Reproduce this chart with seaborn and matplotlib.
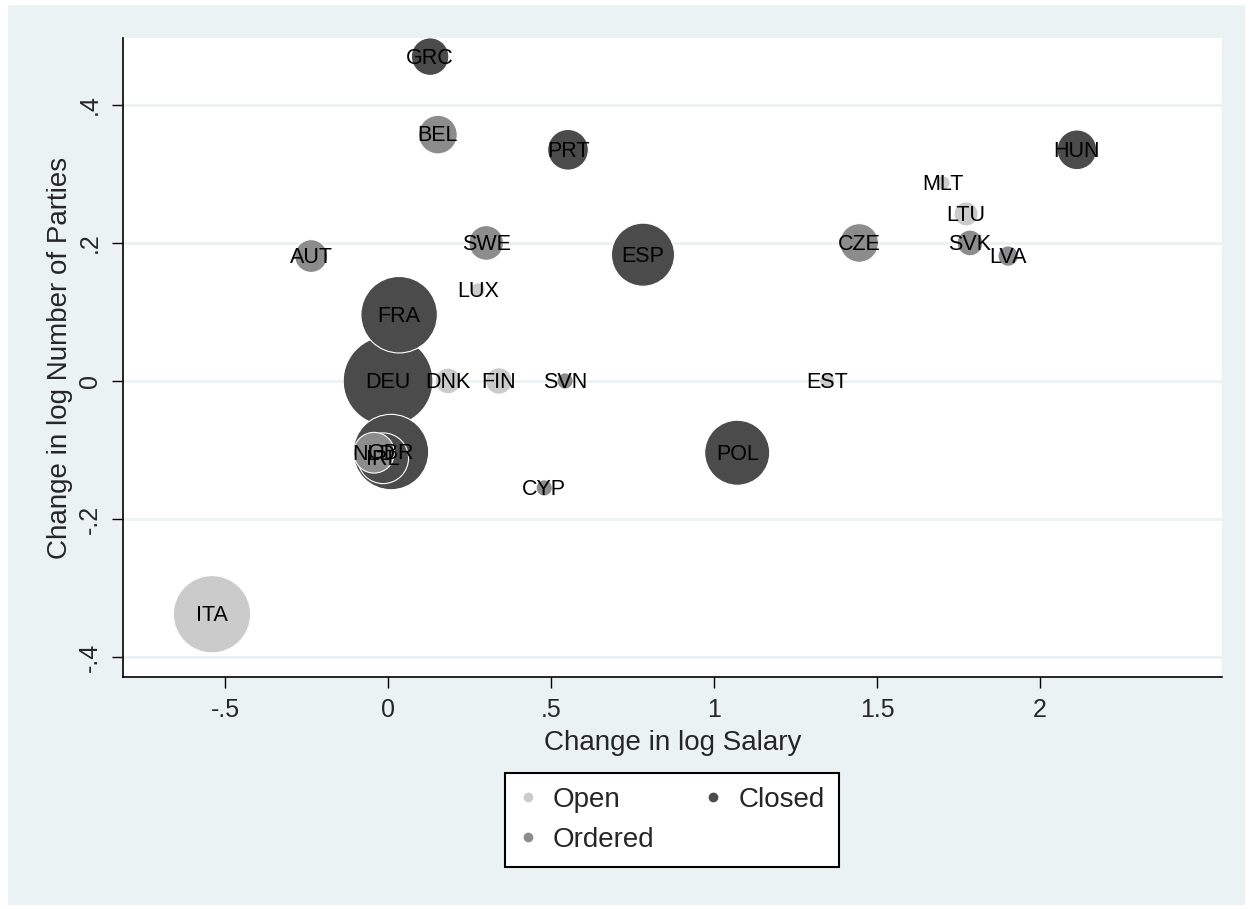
import pandas as pd
import seaborn as sns
import matplotlib.pyplot as plt
from matplotlib.lines import Line2D
from matplotlib.patches import Rectangle

countries = ['GRC', 'BEL', 'PRT', 'HUN', 'MLT', 'LTU', 'SVK', 'LVA', 'CZE', 'ESP',
             'SWE', 'AUT', 'LUX', 'FRA', 'DEU', 'DNK', 'FIN', 'SVN', 'EST', 'GBR',
             'IRL', 'NLD', 'CYP', 'POL', 'ITA']
salary = [0.129, 0.153, 0.552, 2.113, 1.702, 1.773, 1.785, 1.902, 1.445, 0.782,
          0.301, -0.236, 0.276, 0.034, 0.0, 0.184, 0.340, 0.543, 1.347, 0.009,
          -0.015, -0.043, 0.479, 1.071, -0.540]
parties = [0.470, 0.357, 0.335, 0.335, 0.287, 0.242, 0.200, 0.181, 0.200, 0.183,
           0.200, 0.181, 0.132, 0.096, 0.0, 0.0, 0.0, 0.0, 0.0, -0.103,
           -0.112, -0.104, -0.155, -0.104, -0.338]
system = ['Closed', 'Ordered', 'Closed', 'Closed', 'Open', 'Open', 'Ordered', 'Ordered',
          'Ordered', 'Closed', 'Ordered', 'Ordered', 'Open', 'Closed', 'Closed', 'Open',
          'Open', 'Ordered', 'Open', 'Closed', 'Closed', 'Ordered', 'Ordered', 'Closed', 'Open']
weight = [34, 36, 40, 38, 4.9, 14, 16, 10, 36, 96,
          29, 26, 4.9, 141, 194, 16, 17, 6.4, 5.6, 137,
          62, 40, 6.4, 102, 144]

categories = ['Open', 'Ordered', 'Closed']
palette = {'Open': '#cbcbcb', 'Ordered': '#8c8c8c', 'Closed': '#4b4b4b'}
BG = '#eaf2f3'

df = pd.DataFrame({'country': countries, 'salary': salary, 'parties': parties,
                   'system': system, 'weight': weight})
# big bubbles first so the small ones stay visible
df = df.sort_values('weight', ascending=False)

sns.set_style('white')
plt.rcParams['font.family'] = ['Liberation Sans', 'DejaVu Sans']

fig = plt.figure(figsize=(12.53, 9.09), dpi=100)
fig.patch.set_facecolor('white')
fig.add_artist(Rectangle((8 / 1253, 4 / 909), 1237 / 1253, 900 / 909,
                         transform=fig.transFigure, facecolor=BG, edgecolor='none', zorder=-10))

ax = fig.add_axes([123 / 1253, 1 - 677 / 909, (1222 - 123) / 1253, (677 - 38) / 909])
ax.set_facecolor('white')

wmax = max(weight)
sns.scatterplot(data=df, x='salary', y='parties', hue='system', palette=palette,
                size='weight', sizes=(0, 21.5 * wmax), size_norm=(0, wmax),
                edgecolor='white', linewidth=0.8, legend=False, ax=ax, zorder=3)

for _, r in df.iterrows():
    ax.text(r['salary'], r['parties'] - 0.002, r['country'], ha='center', va='center',
            fontsize=15.5, color='black', zorder=5)

ax.set_xlim(-0.813, 2.558)
ax.set_ylim(-0.429, 0.497)
ax.set_xticks([-0.5, 0, 0.5, 1, 1.5, 2])
ax.set_xticklabels(['-.5', '0', '.5', '1', '1.5', '2'])
ax.set_yticks([-0.4, -0.2, 0, 0.2, 0.4])
ax.set_yticklabels(['-.4', '-.2', '0', '.2', '.4'], rotation=90, va='center')

ax.set_axisbelow(True)
ax.yaxis.grid(True, color=BG, linewidth=2)
ax.xaxis.grid(False)
ax.tick_params(axis='both', direction='out', length=8, width=1, color='black',
               labelsize=18, pad=7, left=True, bottom=True)
for s in ['top', 'right']:
    ax.spines[s].set_visible(False)
for s in ['left', 'bottom']:
    ax.spines[s].set_color('black')
    ax.spines[s].set_linewidth(1.2)

ax.set_xlabel('Change in log Salary', fontsize=20, labelpad=6)
ax.set_ylabel('Change in log Number of Parties', fontsize=20, labelpad=4)

handles = [Line2D([], [], marker='o', linestyle='none', markersize=7,
                  markerfacecolor=palette[c], markeredgecolor='none') for c in categories]
leg = fig.legend(handles, categories, loc='center', bbox_to_anchor=(672 / 1253, 1 - 820 / 909),
                 ncol=2, frameon=True, fancybox=False, edgecolor='black', fontsize=20,
                 handletextpad=0.62, columnspacing=1.8, borderpad=0.5, labelspacing=0.5,
                 handlelength=0.6, framealpha=1)
leg.get_frame().set_linewidth(1.5)
leg.get_frame().set_facecolor('white')

fig.savefig('out.png', dpi=100)
